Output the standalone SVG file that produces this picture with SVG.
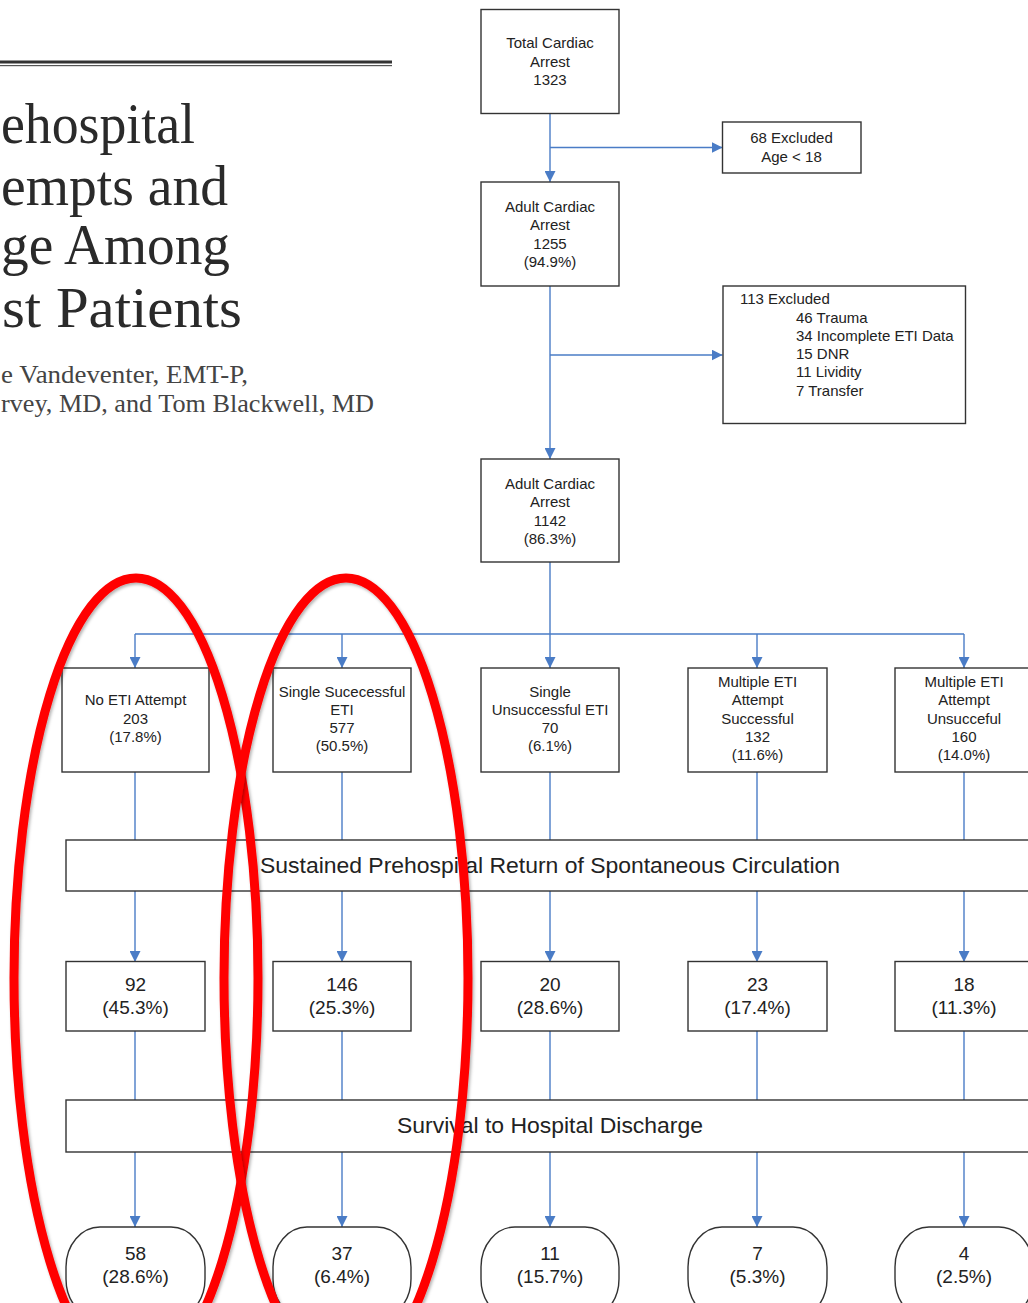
<svg xmlns="http://www.w3.org/2000/svg" width="1028" height="1303" viewBox="0 0 1028 1303">
<style>
.box{fill:#fff;stroke:#333;stroke-width:1.4}
.t{font-family:"Liberation Sans",Arial,sans-serif;font-size:15px;fill:#222;text-anchor:middle}
.tl{font-family:"Liberation Sans",Arial,sans-serif;font-size:15px;fill:#222}
.n{font-family:"Liberation Sans",Arial,sans-serif;font-size:19px;fill:#222;text-anchor:middle}
.bar{font-family:"Liberation Sans",Arial,sans-serif;font-size:22.5px;fill:#222;text-anchor:middle}
.title{font-family:"Liberation Serif","Times New Roman",serif;font-size:56px;fill:#2a2a2a}
.auth{font-family:"Liberation Serif","Times New Roman",serif;font-size:25px;fill:#444}
.c{fill:none;stroke:#4a7cc6;stroke-width:1.4}
.ca{fill:none;stroke:#4a7cc6;stroke-width:1.4;marker-end:url(#arr)}
.oval{fill:none;stroke:#ff0000;stroke-width:9;filter:url(#sh)}
</style>
<defs>
<marker id="arr" viewBox="0 0 10 10" refX="10" refY="5" markerWidth="11" markerHeight="11" markerUnits="userSpaceOnUse" orient="auto">
<path d="M0,0 L10,5 L0,10 z" fill="#4a7cc6"/>
</marker>
<filter id="sh" x="-10%" y="-10%" width="120%" height="120%">
<feDropShadow dx="1.5" dy="2" stdDeviation="1.5" flood-color="#000" flood-opacity="0.3"/>
</filter>
</defs>
<rect x="0" y="0" width="1028" height="1303" fill="#fff"/>

<g id="header">
<rect x="0" y="60.5" width="392" height="3" fill="#333"/>
<rect x="0" y="65" width="392" height="1.2" fill="#555"/>
<text class="title" x="1" y="143" textLength="194" lengthAdjust="spacingAndGlyphs">ehospital</text>
<text class="title" x="1" y="205" textLength="227" lengthAdjust="spacingAndGlyphs">empts and</text>
<text class="title" x="1" y="264" textLength="229" lengthAdjust="spacingAndGlyphs">ge Among</text>
<text class="title" x="2" y="327" textLength="240" lengthAdjust="spacingAndGlyphs">st Patients</text>
<text class="auth" x="1" y="383" textLength="247" lengthAdjust="spacingAndGlyphs">e Vandeventer, EMT-P,</text>
<text class="auth" x="1" y="412" textLength="373" lengthAdjust="spacingAndGlyphs">rvey, MD, and Tom Blackwell, MD</text>
</g>

<g id="connectors">
<path class="ca" d="M550,113 V182"/>
<path class="ca" d="M550,147.5 H722.5"/>
<path class="ca" d="M550,286 V459"/>
<path class="ca" d="M550,355 H722.5"/>
<path class="c" d="M550,562 V634 M135,634 H964"/>
<path class="ca" d="M135,634 V668"/>
<path class="ca" d="M342,634 V668"/>
<path class="ca" d="M550,634 V668"/>
<path class="ca" d="M757,634 V668"/>
<path class="ca" d="M964,634 V668"/>
<path class="c" d="M135,772 V840"/>
<path class="c" d="M342,772 V840"/>
<path class="c" d="M550,772 V840"/>
<path class="c" d="M757,772 V840"/>
<path class="c" d="M964,772 V840"/>
<path class="ca" d="M135,891 V962"/>
<path class="ca" d="M342,891 V962"/>
<path class="ca" d="M550,891 V962"/>
<path class="ca" d="M757,891 V962"/>
<path class="ca" d="M964,891 V962"/>
<path class="c" d="M135,1031 V1100"/>
<path class="c" d="M342,1031 V1100"/>
<path class="c" d="M550,1031 V1100"/>
<path class="c" d="M757,1031 V1100"/>
<path class="c" d="M964,1031 V1100"/>
<path class="ca" d="M135,1152 V1227"/>
<path class="ca" d="M342,1152 V1227"/>
<path class="ca" d="M550,1152 V1227"/>
<path class="ca" d="M757,1152 V1227"/>
<path class="ca" d="M964,1152 V1227"/>
</g>

<g id="total">
<rect class="box" x="481" y="9.5" width="138" height="104"/>
<text class="t" x="550" y="48">Total Cardiac</text>
<text class="t" x="550" y="66.5">Arrest</text>
<text class="t" x="550" y="84.5">1323</text>
</g>
<g id="excl68">
<rect class="box" x="722.5" y="122" width="138.5" height="51"/>
<text class="t" x="791.5" y="143">68 Excluded</text>
<text class="t" x="791.5" y="161.5">Age &lt; 18</text>
</g>
<g id="adult1255">
<rect class="box" x="481" y="182" width="138" height="104"/>
<text class="t" x="550" y="211.5">Adult Cardiac</text>
<text class="t" x="550" y="230">Arrest</text>
<text class="t" x="550" y="248.5">1255</text>
<text class="t" x="550" y="266.5">(94.9%)</text>
</g>
<g id="excl113">
<rect class="box" x="723" y="286" width="242.5" height="137.5"/>
<text class="tl" x="740" y="303.5">113 Excluded</text>
<text class="tl" x="796" y="322.5">46 Trauma</text>
<text class="tl" x="796" y="341">34 Incomplete ETI Data</text>
<text class="tl" x="796" y="359">15 DNR</text>
<text class="tl" x="796" y="377">11 Lividity</text>
<text class="tl" x="796" y="395.5">7 Transfer</text>
</g>
<g id="adult1142">
<rect class="box" x="481" y="459" width="138" height="103"/>
<text class="t" x="550" y="488.5">Adult Cardiac</text>
<text class="t" x="550" y="507">Arrest</text>
<text class="t" x="550" y="525.5">1142</text>
<text class="t" x="550" y="543.5">(86.3%)</text>
</g>

<g id="noeti">
<rect class="box" x="62" y="668" width="147" height="104"/>
<text class="t" x="135.5" y="705">No ETI Attempt</text>
<text class="t" x="135.5" y="723.5">203</text>
<text class="t" x="135.5" y="742">(17.8%)</text>
</g>
<g id="singlesucc">
<rect class="box" x="273" y="668" width="138" height="104"/>
<text class="t" x="342" y="696.5">Single Sucecessful</text>
<text class="t" x="342" y="714.5">ETI</text>
<text class="t" x="342" y="733">577</text>
<text class="t" x="342" y="751">(50.5%)</text>
</g>
<g id="singleunsucc">
<rect class="box" x="481" y="668" width="138" height="104"/>
<text class="t" x="550" y="696.5">Single</text>
<text class="t" x="550" y="714.5">Unsuccessful ETI</text>
<text class="t" x="550" y="733">70</text>
<text class="t" x="550" y="751">(6.1%)</text>
</g>
<g id="multisucc">
<rect class="box" x="688" y="668" width="139" height="104"/>
<text class="t" x="757.5" y="687">Multiple ETI</text>
<text class="t" x="757.5" y="705">Attempt</text>
<text class="t" x="757.5" y="723.5">Successful</text>
<text class="t" x="757.5" y="742">132</text>
<text class="t" x="757.5" y="760">(11.6%)</text>
</g>
<g id="multiunsucc">
<rect class="box" x="895" y="668" width="138" height="104"/>
<text class="t" x="964" y="687">Multiple ETI</text>
<text class="t" x="964" y="705">Attempt</text>
<text class="t" x="964" y="723.5">Unsucceful</text>
<text class="t" x="964" y="742">160</text>
<text class="t" x="964" y="760">(14.0%)</text>
</g>

<g id="rosc">
<rect class="box" x="66" y="840" width="975" height="51"/>
<text class="bar" x="550" y="873" textLength="580" lengthAdjust="spacingAndGlyphs">Sustained Prehospital Return of Spontaneous Circulation</text>
</g>

<g id="r92">
<rect class="box" x="66" y="961.5" width="139" height="69.5"/>
<text class="n" x="135.5" y="991">92</text>
<text class="n" x="135.5" y="1013.5">(45.3%)</text>
</g>
<g id="r146">
<rect class="box" x="273" y="961.5" width="138" height="69.5"/>
<text class="n" x="342" y="991">146</text>
<text class="n" x="342" y="1013.5">(25.3%)</text>
</g>
<g id="r20">
<rect class="box" x="481" y="961.5" width="138" height="69.5"/>
<text class="n" x="550" y="991">20</text>
<text class="n" x="550" y="1013.5">(28.6%)</text>
</g>
<g id="r23">
<rect class="box" x="688" y="961.5" width="139" height="69.5"/>
<text class="n" x="757.5" y="991">23</text>
<text class="n" x="757.5" y="1013.5">(17.4%)</text>
</g>
<g id="r18">
<rect class="box" x="895" y="961.5" width="138" height="69.5"/>
<text class="n" x="964" y="991">18</text>
<text class="n" x="964" y="1013.5">(11.3%)</text>
</g>

<g id="survival">
<rect class="box" x="66" y="1100" width="975" height="52"/>
<text class="bar" x="550" y="1133" textLength="306" lengthAdjust="spacingAndGlyphs">Survival to Hospital Discharge</text>
</g>

<g id="s58">
<rect class="box" x="66" y="1227" width="139" height="92" rx="34" ry="40"/>
<text class="n" x="135.5" y="1260">58</text>
<text class="n" x="135.5" y="1282.5">(28.6%)</text>
</g>
<g id="s37">
<rect class="box" x="273" y="1227" width="138" height="92" rx="34" ry="40"/>
<text class="n" x="342" y="1260">37</text>
<text class="n" x="342" y="1282.5">(6.4%)</text>
</g>
<g id="s11">
<rect class="box" x="481" y="1227" width="138" height="92" rx="34" ry="40"/>
<text class="n" x="550" y="1260">11</text>
<text class="n" x="550" y="1282.5">(15.7%)</text>
</g>
<g id="s7">
<rect class="box" x="688" y="1227" width="139" height="92" rx="34" ry="40"/>
<text class="n" x="757.5" y="1260">7</text>
<text class="n" x="757.5" y="1282.5">(5.3%)</text>
</g>
<g id="s4">
<rect class="box" x="895" y="1227" width="138" height="92" rx="34" ry="40"/>
<text class="n" x="964" y="1260">4</text>
<text class="n" x="964" y="1282.5">(2.5%)</text>
</g>

<g id="highlights">
<ellipse class="oval" cx="136" cy="978" rx="122" ry="400"/>
<ellipse class="oval" cx="346" cy="978" rx="122" ry="400"/>
</g>
</svg>
